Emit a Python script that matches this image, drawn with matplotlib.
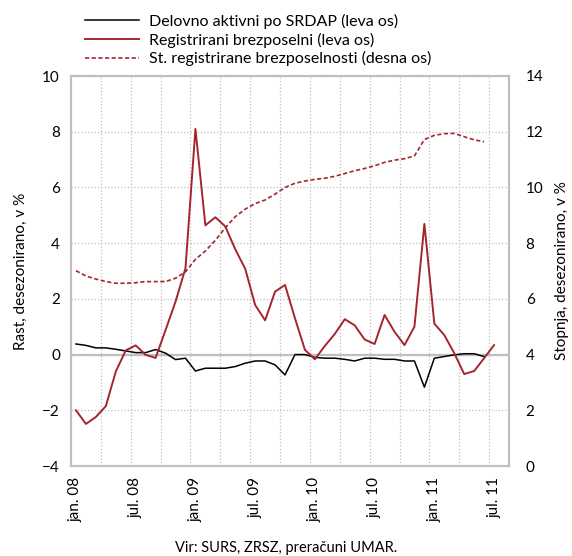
import numpy as np
import matplotlib.pyplot as plt
from matplotlib.ticker import FixedLocator

plt.rcParams['font.family'] = ['Lato', 'DejaVu Sans']

# months jan.08 .. aug.11 (category axis)
mesci = ['jan.', 'feb.', 'mar.', 'apr.', 'maj', 'jun.', 'jul.', 'avg.', 'sep.', 'okt.', 'nov.', 'dec.']
leta = ['08', '09', '10', '11']
kategorije = [m + ' ' + l for l in leta for m in mesci][:44]

# Delovno aktivni po SRDAP (leva os), jan.08 - jun.11
delovno_aktivni = [0.38, 0.33, 0.24, 0.24, 0.19, 0.13, 0.07, 0.07, 0.18, 0.05,
                   -0.18, -0.13, -0.59, -0.49, -0.49, -0.49, -0.43, -0.31, -0.23, -0.23,
                   -0.37, -0.73, 0.0, 0.0, -0.10, -0.13, -0.13, -0.17, -0.23, -0.13,
                   -0.13, -0.17, -0.17, -0.23, -0.23, -1.17, -0.13, -0.07, -0.01, 0.03,
                   0.03, -0.07]

# Registrirani brezposelni (leva os), jan.08 - jul.11
reg_brezposelni = [-2.0, -2.49, -2.24, -1.85, -0.61, 0.15, 0.33, -0.01, -0.12, 0.88,
                   1.9, 3.1, 8.1, 4.64, 4.93, 4.6, 3.78, 3.08, 1.78, 1.23,
                   2.26, 2.5, 1.3, 0.17, -0.17, 0.31, 0.74, 1.27, 1.05, 0.54,
                   0.38, 1.42, 0.82, 0.34, 1.0, 4.69, 1.11, 0.70, 0.05, -0.70,
                   -0.59, -0.13, 0.34]

# St. registrirane brezposelnosti (desna os), jan.08 - jun.11
stopnja = [7.01, 6.82, 6.71, 6.62, 6.56, 6.56, 6.58, 6.62, 6.62, 6.62,
           6.74, 6.97, 7.42, 7.72, 8.1, 8.55, 8.95, 9.22, 9.42, 9.55,
           9.76, 10.0, 10.15, 10.23, 10.29, 10.33, 10.4, 10.5, 10.6, 10.68,
           10.78, 10.9, 10.98, 11.03, 11.13, 11.72, 11.87, 11.93, 11.94, 11.82,
           11.71, 11.64]

rdeca = '#A4262C'
siva = '#BFBFBF'

fig = plt.figure(figsize=(5.72, 5.56), dpi=100)
ax = fig.add_axes([71 / 572, 1 - 466 / 556, 438 / 572, 390 / 556])
ax2 = ax.twinx()

x = np.arange(len(kategorije))

ax.axhline(0, color=siva, lw=1.6, zorder=1)
l1, = ax.plot(x[:len(delovno_aktivni)], delovno_aktivni, color='black', lw=1.1, zorder=3)
l2, = ax.plot(x[:len(reg_brezposelni)], reg_brezposelni, color=rdeca, lw=1.4, zorder=3)
l3, = ax2.plot(x[:len(stopnja)], stopnja, color=rdeca, lw=1.2, ls=(0, (2.5, 1.5)))

ax.set_xlim(-0.5, len(kategorije) - 0.5)
ax.set_ylim(-4, 10)
ax.set_yticks(range(-4, 11, 2))
ax2.set_ylim(0, 14)
ax2.set_yticks(range(0, 15, 2))

ax.set_xticks(x[::6])
ax.set_xticklabels(kategorije[::6], rotation=90, fontsize=11)
ax.xaxis.set_minor_locator(FixedLocator(np.arange(2.5, 42, 3)))
ax.grid(True, which='minor', axis='x', color=siva, ls=':', lw=0.9)
ax.grid(True, which='major', axis='y', color=siva, ls=':', lw=0.9)
ax.set_axisbelow(True)

ax.tick_params(axis='both', which='both', length=0, labelsize=11)
ax.tick_params(axis='x', pad=8)
ax.tick_params(axis='y', pad=8)
ax2.tick_params(axis='y', length=0, labelsize=11, pad=12)

for a in (ax, ax2):
    for s in a.spines.values():
        s.set_color(siva)
        s.set_linewidth(1.5)

ax.set_ylabel('Rast, desezonirano, v %', fontsize=11, labelpad=10)
ax2.set_ylabel('Stopnja, desezonirano, v %', fontsize=11, labelpad=8)

fig.legend([l1, l2, l3],
           ['Delovno aktivni po SRDAP (leva os)', 'Registrirani brezposelni (leva os)',
            'St. registrirane brezposelnosti (desna os)'],
           loc='upper left', bbox_to_anchor=(85 / 572, 1 - 14 / 556), frameon=False,
           fontsize=11.5, handlelength=3.4, handletextpad=0.6, labelspacing=0.22,
           borderpad=0, borderaxespad=0)

fig.text(0.5, 1 - 548 / 556, 'Vir: SURS, ZRSZ, preračuni UMAR.', ha='center', va='center', fontsize=10.5)

fig.savefig('out.png', dpi=100)
